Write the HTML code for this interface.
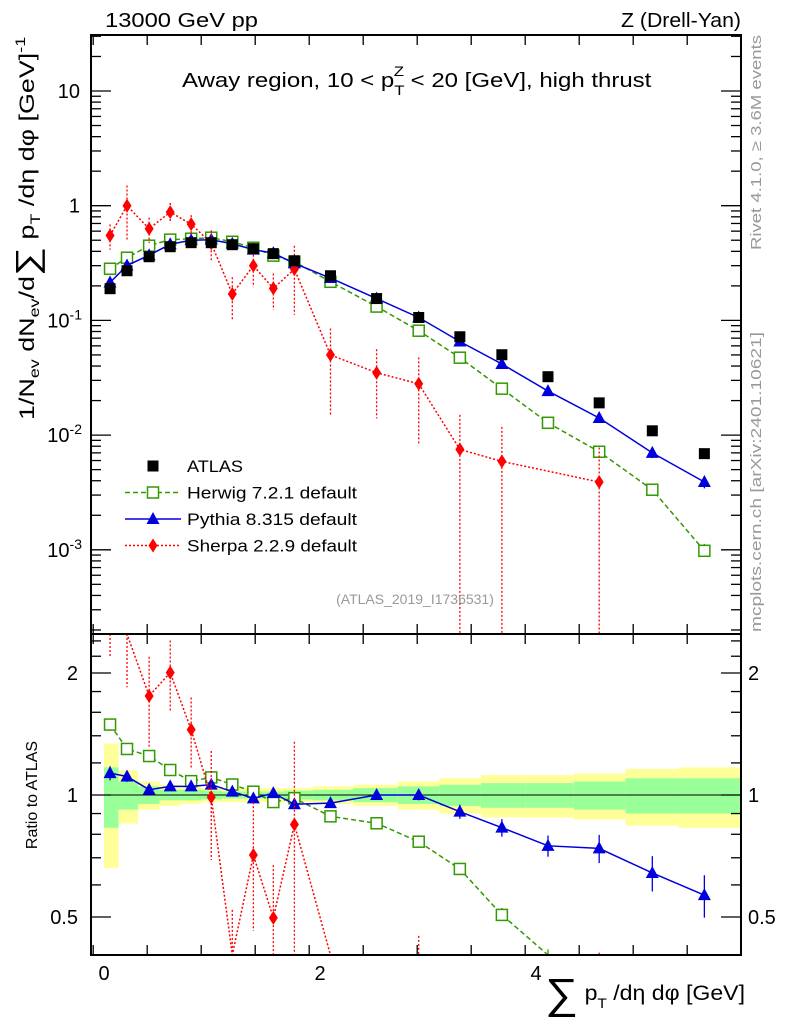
<!DOCTYPE html>
<html><head><meta charset="utf-8"><style>
html,body{margin:0;padding:0;background:#fff;}
svg{display:block;font-family:"Liberation Sans",sans-serif;}
</style></head><body>
<svg id="c" width="786" height="1024" viewBox="0 0 786 1024" xmlns="http://www.w3.org/2000/svg">
<g id="bands"></g>
<g id="marks"></g>
<g id="axes"></g>
<text x="105" y="27" font-size="20" textLength="153" lengthAdjust="spacingAndGlyphs">13000 GeV pp</text>
<text x="621" y="27" font-size="20" textLength="120" lengthAdjust="spacingAndGlyphs">Z (Drell-Yan)</text>
<text transform="translate(182,87) scale(1.2,1)" font-size="20">Away region, 10 &lt; p<tspan font-size="14" dy="8">T</tspan><tspan font-size="14" dx="-9" dy="-19">Z</tspan><tspan dy="11"> &lt; 20 [GeV], high thrust</tspan></text>
<text transform="translate(761,250) rotate(-90)" font-size="15" fill="#999" textLength="215" lengthAdjust="spacingAndGlyphs">Rivet 4.1.0, ≥ 3.6M events</text>
<text transform="translate(761,632) rotate(-90)" font-size="15" fill="#999" textLength="300" lengthAdjust="spacingAndGlyphs">mcplots.cern.ch [arXiv:2401.10621]</text>
<text x="415" y="604" font-size="14" fill="#999" text-anchor="middle">(ATLAS_2019_I1736531)</text>
<text transform="translate(34,420) rotate(-90) scale(1.28,1)" font-size="21">1/N<tspan font-size="14" dy="5">ev</tspan><tspan dy="-5"> dN</tspan><tspan font-size="14" dy="5">ev</tspan><tspan dy="-5">/d</tspan><tspan font-size="32" dy="4">∑</tspan><tspan dy="-4"> p</tspan><tspan font-size="14" dy="6">T</tspan><tspan dy="-6"> /dη dφ  [GeV]</tspan><tspan font-size="14" dy="-9">-1</tspan></text>
<text transform="translate(37,795) rotate(-90)" font-size="16" text-anchor="middle">Ratio to ATLAS</text>
<text transform="translate(745,1000) scale(1.1,1)" font-size="21" text-anchor="end"><tspan font-size="42" dy="8">∑</tspan><tspan dy="-8"> p</tspan><tspan font-size="14" dy="8">T</tspan><tspan dy="-8"> /dη dφ [GeV]</tspan></text>
<g id="legend"></g>
</svg>
<script>
const xCenters=[0.056,0.213,0.418,0.613,0.807,0.993,1.188,1.383,1.568,1.763,2.097,2.524,2.914,3.295,3.684,4.111,4.585,5.077,5.559];
const binEdges=[0,0.135,0.315,0.515,0.71,0.9,1.09,1.285,1.475,1.665,1.93,2.31,2.72,3.105,3.49,3.9,4.35,4.83,5.32,5.94];
const atlas=[0.189,0.271,0.359,0.439,0.476,0.476,0.457,0.422,0.382,0.331,0.245,0.155,0.106,0.072,0.0502,0.0323,0.0191,0.0109,0.00689];
const herwig=[0.282,0.352,0.448,0.506,0.515,0.526,0.485,0.43,0.367,0.325,0.217,0.132,0.0813,0.0473,0.0254,0.0128,0.00716,0.00334,0.00098];
const pythia=[0.214,0.301,0.37,0.461,0.5,0.505,0.466,0.414,0.386,0.314,0.234,0.155,0.106,0.0655,0.0417,0.0242,0.0141,0.007,0.0039];
const sherpa=[0.55,1.0,0.63,0.88,0.69,0.47,0.17,0.3,0.19,0.28,0.05,0.035,0.028,0.0075,0.0059,null,0.0039,null,null];
const sherpaErr=[0.25,0.5,0.25,0.2,0.2,0.3,0.4,0.35,0.35,0.6,0.7,0.6,0.7,1,1,0,1,0,0];
const pythiaErr=[0.04,0.03,0.02,0.02,0.02,0.02,0.02,0.02,0.02,0.02,0.02,0.02,0.03,0.04,0.05,0.06,0.08,0.1,0.12];
const herwigErr=[0.02,0.02,0.02,0.02,0.02,0.02,0.02,0.02,0.02,0.02,0.02,0.02,0.02,0.03,0.04,0.05,0.06,0.08,0.15];
const greenErr=[0.17,0.08,0.05,0.03,0.03,0.025,0.02,0.02,0.02,0.025,0.03,0.04,0.05,0.06,0.07,0.07,0.08,0.1,0.1];
const yellowErr=[0.34,0.15,0.08,0.06,0.05,0.04,0.04,0.04,0.04,0.04,0.05,0.06,0.08,0.1,0.12,0.12,0.13,0.16,0.17];
const mainTicks=["10","1","10^-1","10^-2","10^-3"];
const ratioTicks=[2,1,0.5];
const xTicks=[0,2,4];

const L=91,R=741,T=35,M=634,B=955;
const X=v=>104+v*108;
const Y=v=>91+(1-Math.log10(v))*114.7;
const YR=r=>795-Math.log2(r)*122;
const NS="http://www.w3.org/2000/svg";
function mk(par,tag,at){const e=document.createElementNS(NS,tag);for(const k in at)e.setAttribute(k,at[k]);document.getElementById(par).appendChild(e);return e;}
const cm=(v)=>Math.min(Math.max(v,T),M), cr=(v)=>Math.min(Math.max(v,M),B);

for(let i=0;i<atlas.length;i++){
 const x0=X(binEdges[i]),x1=Math.min(X(binEdges[i+1]),R);
 let e=mk('bands','rect',{x:x0,y:YR(1+yellowErr[i]),width:x1-x0,height:YR(1-yellowErr[i])-YR(1+yellowErr[i]),fill:'#ffff99'});
 
 
 e=mk('bands','rect',{x:x0,y:YR(1+greenErr[i]),width:x1-x0,height:YR(1-greenErr[i])-YR(1+greenErr[i]),fill:'#99ff99'});
 
 
}
mk('bands','line',{x1:L,x2:R,y1:YR(1),y2:YR(1),stroke:'#000','stroke-width':1});

function series(vals,err,color,dash,marker,name){
 const ptsM=[],ptsR=[];
 vals.forEach((v,i)=>{if(v==null)return;ptsM.push([X(xCenters[i]),Y(v),v,i]);ptsR.push([X(xCenters[i]),YR(v/atlas[i]),v/atlas[i],i]);});
 [[ptsM,cm,1],[ptsR,cr,0]].forEach(([pts,clamp,main])=>{
  let d='';pts.forEach((p,j)=>{d+=(j?'L':'M')+p[0]+','+clamp(p[1]);});
  const ln=mk('marks','path',{d:d,fill:'none',stroke:color,'stroke-width':1.5,'stroke-dasharray':dash});
  
  
  pts.forEach(p=>{
   const i=p[3],v=p[2],e=err[i];
   const f=main?Y:YR;
   if(e>0){const lo=Math.max(v*(1-e),1e-9),hi=v*(1+e);
    mk('marks','line',{x1:p[0],x2:p[0],y1:clamp(f(hi)),y2:clamp(f(lo)),stroke:color,'stroke-width':1.3,'stroke-dasharray':dash});}
   const py=p[1]; if(py<(main?T:M)||py>(main?M:B))return;
   let m;
   if(marker==='sq')m=mk('marks','rect',{x:p[0]-5.5,y:py-5.5,width:11,height:11,fill:'#fff',stroke:color,'stroke-width':1.5});
   else if(marker==='tri')m=mk('marks','path',{d:`M${p[0]},${py-7}L${p[0]+6.5},${py+5}L${p[0]-6.5},${py+5}Z`,fill:color});
   else m=mk('marks','path',{d:`M${p[0]},${py-7}L${p[0]+4.5},${py}L${p[0]},${py+7}L${p[0]-4.5},${py}Z`,fill:color});
   
   
  });
 });
}
series(herwig,herwigErr,'#339900','5,3','sq','herwig');
series(pythia,pythiaErr,'#0000dd','','tri','pythia');
series(sherpa,sherpaErr,'#ff0000','2,2','dia','sherpa');
atlas.forEach((v,i)=>{const r=mk('marks','rect',{x:X(xCenters[i])-5.5,y:Y(v)-5.5,width:11,height:11,fill:'#000'});
 
 });

mk('axes','rect',{x:L,y:T,width:R-L,height:M-T,fill:'none',stroke:'#000','stroke-width':2});
mk('axes','rect',{x:L,y:M,width:R-L,height:B-M,fill:'none',stroke:'#000','stroke-width':2});
for(let dec=-4;dec<=1;dec++){for(let k=1;k<10;k++){const v=k*Math.pow(10,dec);const y=Y(v);if(y<T||y>M)continue;const len=k===1?20:10;
 mk('axes','line',{x1:L,x2:L+len,y1:y,y2:y,stroke:'#000','stroke-width':1.3});mk('axes','line',{x1:R,x2:R-len,y1:y,y2:y,stroke:'#000','stroke-width':1.3});}}
mainTicks.forEach((t,i)=>{const y=Y(Math.pow(10,1-i));const p=t.split('^');
 const e=mk('axes','text',{x:p[1]?82:80,y:y+7,'font-size':20,'text-anchor':'end'});
 
 
 if(p[1]){e.textContent=p[0];const s=document.createElementNS(NS,'tspan');s.setAttribute('font-size','14');s.setAttribute('dy','-8');s.textContent=p[1];e.appendChild(s);}else e.textContent=t;});
[0.5,0.6,0.7,0.8,0.9,1,1.2,1.4,1.6,1.8,2,2.2,2.4].forEach(v=>{const y=YR(v);if(y<M||y>B)return;const big=[0.5,1,2].includes(v);const len=big?20:10;
 mk('axes','line',{x1:L,x2:L+len,y1:y,y2:y,stroke:'#000','stroke-width':1.3});mk('axes','line',{x1:R,x2:R-len,y1:y,y2:y,stroke:'#000','stroke-width':1.3});});
ratioTicks.forEach(v=>{const y=YR(v)+7;
 let e=mk('axes','text',{x:78,y:y,'font-size':20,'text-anchor':'end'});e.textContent=v;
 
 
 e=mk('axes','text',{x:748,y:y,'font-size':20});e.textContent=v;
 
 });
for(let v=-0.1;v<=6;v+=0.5){const vv=Math.round(v*10)/10;if(vv<-0.1)continue;const x=X(vv);if(x<L||x>R)continue;const big=Math.abs(vv%1)<1e-6;const len=big?20:10;
 [[T,1],[M,-1],[M,1],[B,-1]].forEach(([y0,s])=>mk('axes','line',{x1:x,x2:x,y1:y0,y2:y0+s*len,stroke:'#000','stroke-width':1.3}));}
xTicks.forEach(v=>{const e=mk('axes','text',{x:X(v),y:980,'font-size':20,'text-anchor':'middle'});e.textContent=v;
 
 });
const leg=[['ATLAS','#000','','atlas',56],['Herwig 7.2.1 default','#339900','5,3','sq',170],['Pythia 8.315 default','#0000dd','','tri',170],['Sherpa 2.2.9 default','#ff0000','2,2','dia',170]];
leg.forEach((l,i)=>{const y=466+i*26.5,cx=153;
 if(i>0)mk('legend','line',{x1:125,x2:181,y1:y,y2:y,stroke:l[1],'stroke-width':1.5,'stroke-dasharray':l[2]});
 let m;
 if(l[3]==='atlas')m=mk('legend','rect',{x:cx-5.5,y:y-5.5,width:11,height:11,fill:'#000'});
 else if(l[3]==='sq')m=mk('legend','rect',{x:cx-5.5,y:y-5.5,width:11,height:11,fill:'#fff',stroke:l[1],'stroke-width':1.5});
 else if(l[3]==='tri')m=mk('legend','path',{d:`M${cx},${y-7}L${cx+6.5},${y+5}L${cx-6.5},${y+5}Z`,fill:l[1]});
 else m=mk('legend','path',{d:`M${cx},${y-7}L${cx+4.5},${y}L${cx},${y+7}L${cx-4.5},${y}Z`,fill:l[1]});
 
 
 const t=mk('legend','text',{x:187,y:y+6,'font-size':17,textLength:l[4],lengthAdjust:'spacingAndGlyphs'});t.textContent=l[0];
 
 });
</script>
</body></html>
